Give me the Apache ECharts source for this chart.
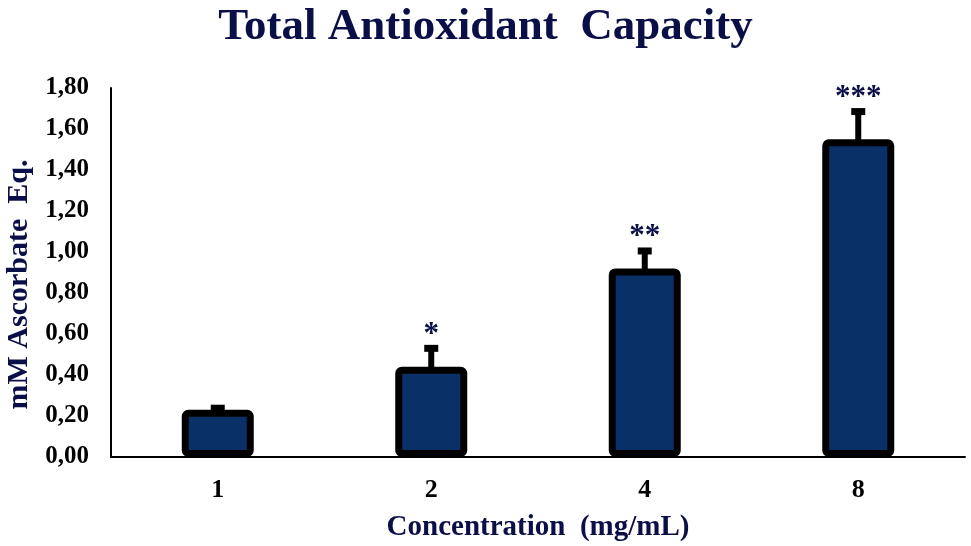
<!DOCTYPE html>
<html><head><meta charset="utf-8">
<script src="https://cdn.jsdelivr.net/npm/echarts@6/dist/echarts.min.js"></script>
<style>html,body{margin:0;padding:0;background:#fff}#c{width:971px;height:546px}</style>
</head><body><div id="c"></div>
<script>
var categories = ['1', '2', '4', '8'];
var values = [0.23, 0.44, 0.92, 1.55];
var errors = [0.008, 0.09, 0.085, 0.135];
var stars = ['', '*', '**', '***'];

var chart = echarts.init(document.getElementById('c'));
var font = '"Times New Roman", "Liberation Serif", serif';
var navy = '#0b0f48';
chart.setOption({
  animation: false,
  title: {
    text: 'Total Antioxidant  Capacity', left: 'center', top: 0,
    textStyle: {fontFamily: font, fontWeight: 'bold', fontSize: 45, color: navy}
  },
  grid: {left: 111, right: 6, top: 88, bottom: 89, outerBoundsMode: 'none', containLabel: false},
  xAxis: {
    type: 'category', data: categories,
    axisLine: {lineStyle: {color: '#000', width: 2}},
    axisTick: {show: false},
    axisLabel: {fontFamily: font, fontWeight: 'bold', fontSize: 26, color: '#000', margin: 20},
    name: 'Concentration  (mg/mL)', nameLocation: 'middle', nameGap: 56,
    nameTextStyle: {fontFamily: font, fontWeight: 'bold', fontSize: 29, color: navy}
  },
  yAxis: {
    type: 'value', min: 0, max: 1.8, interval: 0.2,
    axisLine: {show: true, lineStyle: {color: '#000', width: 2}},
    axisTick: {show: false},
    splitLine: {show: false},
    axisLabel: {fontFamily: font, fontWeight: 'bold', fontSize: 25, color: '#000', margin: 22,
      formatter: function (v) { return v.toFixed(2).replace('.', ','); }},
    name: 'mM Ascorbate  Eq.', nameLocation: 'middle', nameGap: 76, nameRotate: 90,
    nameTextStyle: {fontFamily: font, fontWeight: 'bold', fontSize: 30, color: navy, padding: [0, 24, 0, 0]}
  },
  series: [{
    type: 'bar', data: values, barWidth: 72,
    itemStyle: {color: '#0a3068', borderColor: '#000', borderWidth: 7, borderRadius: 3}
  }, {
    type: 'custom',
    data: values.map(function (v, i) { return [i, v, errors[i]]; }),
    renderItem: function (params, api) {
      var i = api.value(0), v = api.value(1), e = api.value(2);
      var base = api.coord([i, v]);
      var top = api.coord([i, v + e]);
      var s = stars[i];
      var children = [
        {type: 'line', shape: {x1: base[0], y1: base[1] + 2, x2: top[0], y2: top[1]},
         style: {stroke: '#000', lineWidth: 6}},
        {type: 'line', shape: {x1: top[0] - 7, y1: top[1], x2: top[0] + 7, y2: top[1]},
         style: {stroke: '#000', lineWidth: 7}}
      ];
      if (s) {
        children.push({type: 'text', x: top[0], y: top[1] + 2,
          style: {text: s, fontFamily: font, fontWeight: 'bold', fontSize: 31, fill: navy,
                  align: 'center', verticalAlign: 'bottom'}});
      }
      return {type: 'group', children: children};
    },
    z: 5
  }]
});
</script></body></html>
